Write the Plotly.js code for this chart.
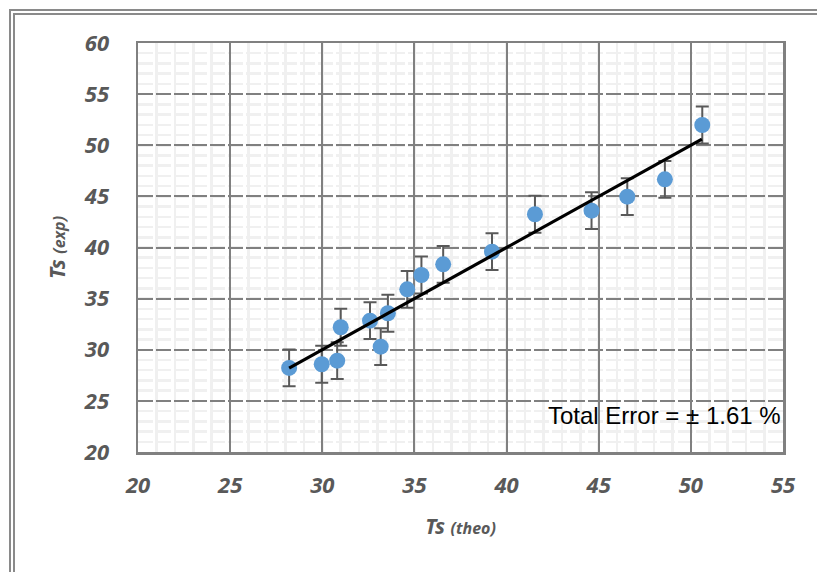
<!DOCTYPE html>
<html>
<head>
<meta charset="utf-8">
<script src="https://cdn.plot.ly/plotly-3.0.1.min.js"></script>
<style>
  html, body { margin: 0; padding: 0; background: #ffffff; overflow: hidden; }
  #wrap { position: relative; width: 817px; height: 572px; }
  #frame {
    position: absolute; left: 9px; top: 9px; width: 900px; height: 700px;
    border-top: 6px double #8a8a8a; border-left: 6px double #8a8a8a;
    box-sizing: border-box; pointer-events: none; z-index: 2;
  }
  #chart { position: absolute; left: 0; top: 0; width: 817px; height: 572px; }
</style>
</head>
<body>
<div id="wrap">
  <div id="chart"></div>
  <div id="frame"></div>
</div>
<script>
// Theoretical vs experimental Ts
const tsTheo = [28.2, 29.97, 30.81, 31.0, 32.59, 33.17, 33.56, 34.61, 35.38, 36.56, 39.21, 41.54, 44.61, 46.55, 48.59, 50.62];
const tsExp  = [28.22, 28.58, 28.93, 32.2, 32.84, 30.3, 33.57, 35.91, 37.31, 38.35, 39.59, 43.25, 43.6, 44.97, 46.67, 51.98];
const errorBar = 1.8;

// Reference line Ts(exp) = Ts(theo) across the measured range
const lineX = [28.2, 50.6];
const lineY = [28.2, 50.6];

const xTicks = [20, 25, 30, 35, 40, 45, 50, 55];
const yTicks = [20, 25, 30, 35, 40, 45, 50, 55, 60];
const noteText = 'Total Error = \u00B1 1.61 %';

const tickFont = { family: 'Noto Sans, sans-serif', size: 22, color: '#595959', weight: 'bold', style: 'italic' };
const titleFont = { family: 'Noto Sans, sans-serif', size: 21, color: '#595959', weight: 'bold', style: 'italic' };

const points = {
  x: tsTheo, y: tsExp, type: 'scatter', mode: 'markers',
  marker: { color: '#5b9bd5', size: 16 },
  error_y: { type: 'constant', value: errorBar, color: '#595959', thickness: 2, width: 6.5 },
  hoverinfo: 'x+y', showlegend: false
};
const refLine = {
  x: lineX, y: lineY, type: 'scatter', mode: 'lines',
  line: { color: '#000000', width: 3.2 }, showlegend: false
};

const axisCommon = {
  showline: true, mirror: true, linecolor: '#808080', linewidth: 2.5,
  showgrid: true, gridcolor: '#808080', gridwidth: 2,
  zeroline: false, ticks: '', tickfont: tickFont, fixedrange: true,
  minor: { dtick: 1, showgrid: true, gridcolor: '#f0f0f0', gridwidth: 2.5 }
};

const layout = {
  width: 817, height: 572,
  margin: { l: 138, r: 34, t: 43, b: 120 },
  paper_bgcolor: '#ffffff', plot_bgcolor: '#ffffff',
  xaxis: Object.assign({}, axisCommon, {
    range: [20, 55], tickvals: xTicks, ticktext: xTicks.map(String),
    ticklabelstandoff: 12,
    title: { text: '<b><i>Ts</i></b> <b><i><span style="font-size:16px">(theo)</span></i></b>', font: titleFont, standoff: 22 }
  }),
  yaxis: Object.assign({}, axisCommon, {
    range: [20, 60], tickvals: yTicks, ticktext: yTicks.map(String),
    griddash: '15px,3px', ticklabelstandoff: 22,
    title: { text: '<b><i>Ts</i></b> <b><i><span style="font-size:16px">(exp)</span></i></b>', font: titleFont, standoff: 13 }
  }),
  annotations: [{
    xref: 'paper', yref: 'y', x: 1, y: 23.6, xanchor: 'right', yanchor: 'middle',
    text: noteText, showarrow: false,
    font: { family: 'Liberation Sans, Arial, sans-serif', size: 24, color: '#000000' }
  }]
};

Plotly.newPlot('chart', [points, refLine], layout, { displayModeBar: false, staticPlot: true });
</script>
</body>
</html>
